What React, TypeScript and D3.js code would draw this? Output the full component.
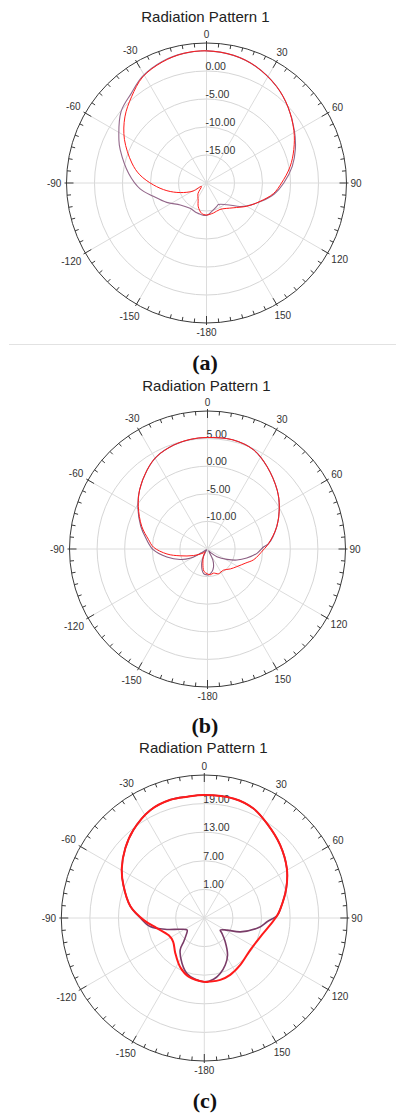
import React from 'react';
import * as d3 from 'd3';

type Pt = [number, number];

// angle (deg, clockwise from top) / gain (dB)
const redA: Pt[] = [
  [-180, -14.3], [-171, -14.5], [-161, -15.5], [-154, -16.6], [-141, -17.6], [-124, -18.9],
  [-121, -17.2], [-110, -15.0], [-101, -12.8], [-92, -10.5], [-83, -8.0], [-75, -6.2],
  [-62, -3.4], [-51, -1.25], [-41, 0.4], [-31, 2.1], [-20, 3.0], [-10, 3.5], [0, 3.6],
  [12, 3.3], [23, 2.6], [36, 1.3], [47, -0.1], [59, -1.8], [69, -3.3], [79, -4.8],
  [90, -6.6], [99, -7.9], [109, -9.9], [120, -11.7], [133, -13.5], [153, -14.7], [167, -14.5],
];
const purpleA: Pt[] = [
  [-180, -14.2], [-169, -14.3], [-162, -14.4], [-147, -14.6], [-130, -13.9], [-116, -12.1],
  [-104, -10.2], [-95, -8.1], [-83, -6.0], [-69, -3.5], [-64, -2.6], [-50, -0.1], [-40, 0.9],
  [-31, 2.2], [-20, 3.1], [-10, 3.5], [0, 3.6], [12, 3.3], [23, 2.6], [36, 1.3], [47, -0.1],
  [59, -1.7], [69, -3.0], [79, -4.4], [90, -6.2], [99, -7.7], [109, -9.8], [120, -11.8],
  [125, -12.7], [137, -14.7], [151, -15.6], [157, -15.4], [170, -14.8],
];

const redB: Pt[] = [
  [-180, -10.5], [-171, -10.9], [-162, -12.3], [-150, -13.5], [-138, -14.3], [-132, -13.9],
  [-115, -12.2], [-104, -9.9], [-97, -7.6], [-88, -5.2], [-81, -4.2], [-71, -2.4],
  [-58.5, -0.3], [-49, 1.3], [-37.5, 3.0], [-29, 4.1], [-18, 4.8], [-9, 5.1], [0, 5.2],
  [13, 5.3], [25, 4.8], [36, 3.4], [50, 1.5], [59.5, 0.1], [72, -1.8], [85, -3.9],
  [91, -4.9], [103, -6.4], [110, -7.6], [121, -8.8], [131, -9.5], [143, -10.2],
  [156, -10.1], [166, -10.5], [174, -10.3],
];
const purpleB: Pt[] = [
  [-180, -10.3], [-171, -10.5], [-158, -12.2], [-145, -14.3], [-135, -14.8], [-122, -13.6],
  [-118, -11.4], [-111, -9.7], [-101, -7.5], [-91, -5.2], [-81, -3.8], [-71, -2.2],
  [-58.5, -0.2], [-49, 1.3], [-37.5, 3.0], [-29, 4.1], [-18, 4.8], [-9, 5.1], [0, 5.2],
  [13, 5.3], [25, 4.8], [36, 3.4], [50, 1.5], [59.5, 0.1], [72, -1.8], [85, -3.9],
  [88, -4.85], [95, -6.0], [103, -7.7], [110.6, -9.3], [118, -11.0], [129, -12.8],
  [140, -14.2], [147, -14.6], [154, -12.8], [162, -11.5], [169, -10.8], [178, -10.3],
];

const redC: Pt[] = [
  [-180, 8.4], [-165, 7.75], [-154, 6.5], [-140, 4.5], [-127, 3.2], [-116, 3.3],
  [-102, 5.2], [-92, 7.7], [-81, 10.7], [-68, 13.3], [-59, 15.2], [-48.6, 17.1],
  [-39, 18.7], [-26.6, 20.3], [-16, 20.8], [-8, 20.7], [0, 20.8], [14, 20.8], [24, 20.2],
  [33.5, 18.8], [46, 17.1], [59, 15.2], [70, 13.3], [83, 11.1], [88, 10.3], [96, 8.9],
  [108.5, 7.4], [125, 6.75], [142.5, 7.4], [155.5, 8.1], [165.5, 8.4], [175, 8.4],
];
const purpleC: Pt[] = [
  [-180, 8.4], [-171.6, 8.0], [-162.6, 7.2], [-153.8, 5.6], [-143, 3.4], [-139, 1.6],
  [-133, 0.2], [-125, -0.6], [-115, 0.6], [-107, 3.2], [-99, 6.5], [-90, 8.4], [-81, 10.7],
  [-68, 13.3], [-59, 15.2], [-48.6, 17.1], [-39, 18.7], [-26.6, 20.3], [-16, 20.8],
  [-8, 20.7], [0, 20.8], [14, 20.8], [24, 20.2], [33.5, 18.8], [46, 17.1], [59, 15.2],
  [70, 13.3], [83, 11.1], [88, 10.3], [93.4, 8.2], [100, 6.6], [111, 3.1], [118, 0.4],
  [127, -0.8], [131, -0.1], [138.5, 1.6], [148, 4.2], [156, 5.8], [164, 7.1], [171.4, 8.0],
];

const ringsA = [-15, -10, -5, 0, 5];
const ringsB = [-10, -5, 0, 5, 10];
const ringsC = [1, 7, 13, 19, 25];
const angleTicks = [0, 30, 60, 90, 120, 150, 180, 210, 240, 270, 300, 330];
const angleNames = ['0', '30', '60', '90', '120', '150', '-180', '-150', '-120', '-90', '-60', '-30'];

const panels = [
  { cx: 206.5, cy: 183, R: 140, domain: [-20, 5], rings: ringsA, titleY: 22, sub: '(a)', subY: 370,
    red: redA, purple: purpleA, redW: 1, purpleW: 1.1, purpleColor: '#93678a' },
  { cx: 207.5, cy: 549, R: 138, domain: [-15, 10], rings: ringsB, titleY: 390.5, sub: '(b)', subY: 733,
    red: redB, purple: purpleB, redW: 1, purpleW: 1.1, purpleColor: '#8a5c80' },
  { cx: 204.3, cy: 918, R: 143, domain: [-5, 25], rings: ringsC, titleY: 753, sub: '(c)', subY: 1108,
    red: redC, purple: purpleC, redW: 2, purpleW: 1.6, purpleColor: '#7a3c68' },
];

const sans = '"Liberation Sans", Arial, sans-serif';

function Panel({ p }: { p: any }) {
  const r = d3.scaleLinear().domain(p.domain).range([0, p.R]);
  const line = d3
    .lineRadial<Pt>()
    .angle((d) => (d[0] * Math.PI) / 180)
    .radius((d) => Math.max(0, r(d[1])))
    .curve(d3.curveCatmullRomClosed.alpha(0.5));
  const rad = (a: number) => (a * Math.PI) / 180;
  const minor = d3.range(0, 360, 5);

  return (
    <g>
      <text x={p.cx - 1} y={p.titleY} textAnchor="middle" fontFamily={sans} fontSize={15} fill="#222">
        Radiation Pattern 1
      </text>
      <g transform={`translate(${p.cx},${p.cy})`}>
        {p.rings.slice(0, -1).map((v: number) => (
          <circle key={v} r={r(v)} fill="none" stroke="#d6d6d6" strokeWidth={1} />
        ))}
        {angleTicks.map((a) => (
          <line key={a} x1={0} y1={0} x2={p.R * Math.sin(rad(a))} y2={-p.R * Math.cos(rad(a))}
            stroke="#dcdcdc" strokeWidth={1} />
        ))}
        <circle r={p.R} fill="none" stroke="#3a3a3a" strokeWidth={1} />
        {minor.map((a) => {
          const major = a % 30 === 0;
          const r0 = p.R - (major ? 7 : 4);
          const r1 = p.R + (major ? 2 : 0);
          return (
            <line key={a} x1={r0 * Math.sin(rad(a))} y1={-r0 * Math.cos(rad(a))}
              x2={r1 * Math.sin(rad(a))} y2={-r1 * Math.cos(rad(a))} stroke="#3a3a3a" strokeWidth={1} />
          );
        })}
        {p.rings.slice(0, -1).map((v: number) => (
          <text key={v} x={-1} y={-r(v) - 1} fontFamily={sans} fontSize={10.5} fill="#333">
            {v.toFixed(2)}
          </text>
        ))}
        {angleTicks.map((a, i) => {
          const s = Math.sin(rad(a));
          const c = Math.cos(rad(a));
          const w = angleNames[i].length * 5.6;
          const d = p.R + 4 + (Math.abs(s) * w) / 2 + (Math.abs(c) * 10) / 2;
          return (
            <text key={a} x={d * s} y={-d * c} dy="0.35em" textAnchor="middle" fontFamily={sans}
              fontSize={10} fill="#333">
              {angleNames[i]}
            </text>
          );
        })}
        <path d={line(p.purple) || ''} fill="none" stroke={p.purpleColor} strokeWidth={p.purpleW} />
        <path d={line(p.red) || ''} fill="none" stroke="#ff1a1a" strokeWidth={p.redW} />
      </g>
      <text x={205} y={p.subY} textAnchor="middle" fontFamily='"Liberation Serif", "Times New Roman", serif'
        fontWeight="bold" fontSize={22} fill="#111">
        {p.sub}
      </text>
    </g>
  );
}

export default function App() {
  return (
    <div style={{ position: 'absolute', left: 0, top: 0, width: 396, height: 1114, background: '#fff' }}>
      <svg width={396} height={1114} style={{ display: 'block' }}>
        <rect width={396} height={1114} fill="#fff" />
        <line x1={9} x2={396} y1={344.5} y2={344.5} stroke="#e2e2e2" strokeWidth={1} />
        {panels.map((p) => (
          <Panel key={p.sub} p={p} />
        ))}
      </svg>
    </div>
  );
}
